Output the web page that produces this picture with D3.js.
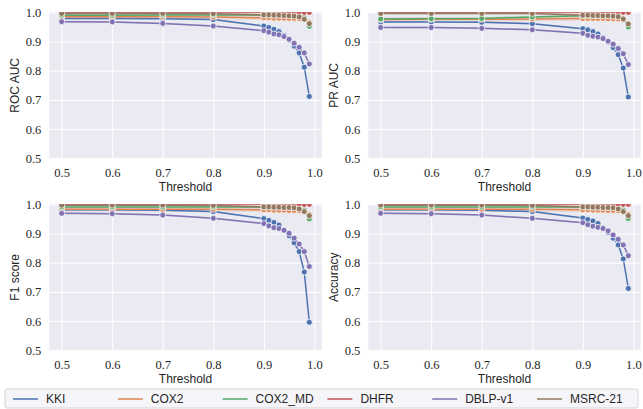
<!DOCTYPE html>
<html>
<head>
<meta charset="utf-8">
<script src="https://cdn.jsdelivr.net/npm/d3@7"></script>
<style>
    body { margin: 0; background: #fff; }
    svg { display: block; }
</style>
</head>
<body>
<div id="graph"></div>
<script>
const width = 643, height = 409;

const thresholds = [0.5, 0.6, 0.7, 0.8, 0.9, 0.91, 0.92, 0.93, 0.94, 0.95, 0.96, 0.97, 0.98, 0.99];
const datasets = ["KKI", "COX2", "COX2_MD", "DHFR", "DBLP-v1", "MSRC-21"];
const colors = ["#4C72B0", "#DD8452", "#55A868", "#C44E52", "#8172B3", "#937860"];
const xTicks = [0.5, 0.6, 0.7, 0.8, 0.9, 1.0];
const yTicks = [0.5, 0.6, 0.7, 0.8, 0.9, 1.0];
const metrics = ["ROC AUC", "PR AUC", "F1 score", "Accuracy"];
// half width of the shaded interval around each dataset's line
const ciHalfWidth = [0.003, 0.008, 0.004, 0.005, 0.003, 0.003];

const rocAuc = [
    [0.979, 0.979, 0.978, 0.975, 0.953, 0.948, 0.942, 0.934, 0.921, 0.905, 0.884, 0.861, 0.812, 0.712],
    [0.985, 0.985, 0.985, 0.984, 0.981, 0.981, 0.980, 0.980, 0.980, 0.979, 0.979, 0.978, 0.976, 0.965],
    [0.990, 0.990, 0.991, 0.991, 0.991, 0.991, 0.990, 0.990, 0.990, 0.989, 0.989, 0.987, 0.982, 0.952],
    [1.000, 1.000, 1.000, 1.000, 1.000, 1.000, 1.000, 1.000, 1.000, 1.000, 1.000, 1.000, 1.000, 1.000],
    [0.968, 0.967, 0.962, 0.953, 0.937, 0.932, 0.926, 0.923, 0.917, 0.908, 0.894, 0.880, 0.861, 0.823],
    [0.996, 0.996, 0.996, 0.995, 0.991, 0.991, 0.990, 0.990, 0.989, 0.988, 0.987, 0.984, 0.976, 0.961]
];
const prAuc = [
    [0.967, 0.967, 0.966, 0.961, 0.944, 0.940, 0.934, 0.926, 0.913, 0.899, 0.879, 0.855, 0.809, 0.710],
    [0.975, 0.976, 0.976, 0.977, 0.979, 0.979, 0.979, 0.979, 0.979, 0.978, 0.978, 0.977, 0.974, 0.962],
    [0.977, 0.978, 0.979, 0.984, 0.988, 0.988, 0.988, 0.988, 0.988, 0.988, 0.987, 0.985, 0.978, 0.950],
    [1.000, 1.000, 1.000, 1.000, 1.000, 1.000, 1.000, 1.000, 1.000, 1.000, 1.000, 1.000, 1.000, 1.000],
    [0.948, 0.948, 0.945, 0.940, 0.928, 0.921, 0.918, 0.915, 0.910, 0.901, 0.891, 0.876, 0.858, 0.821],
    [0.996, 0.996, 0.996, 0.996, 0.990, 0.990, 0.989, 0.989, 0.988, 0.988, 0.987, 0.985, 0.977, 0.960]
];
const f1Score = [
    [0.981, 0.981, 0.980, 0.975, 0.951, 0.945, 0.938, 0.929, 0.912, 0.892, 0.868, 0.838, 0.768, 0.596],
    [0.983, 0.983, 0.983, 0.983, 0.981, 0.981, 0.980, 0.980, 0.980, 0.979, 0.979, 0.978, 0.975, 0.965],
    [0.991, 0.991, 0.991, 0.991, 0.991, 0.991, 0.990, 0.990, 0.990, 0.989, 0.989, 0.987, 0.981, 0.950],
    [1.000, 1.000, 1.000, 1.000, 1.000, 1.000, 1.000, 1.000, 1.000, 1.000, 1.000, 1.000, 1.000, 1.000],
    [0.969, 0.968, 0.963, 0.952, 0.934, 0.926, 0.920, 0.917, 0.911, 0.901, 0.884, 0.864, 0.838, 0.787],
    [0.997, 0.997, 0.997, 0.996, 0.991, 0.991, 0.990, 0.990, 0.989, 0.989, 0.988, 0.984, 0.975, 0.961]
];
const accuracy = [
    [0.981, 0.981, 0.980, 0.975, 0.953, 0.948, 0.943, 0.934, 0.920, 0.904, 0.884, 0.861, 0.813, 0.712],
    [0.983, 0.983, 0.983, 0.983, 0.981, 0.981, 0.980, 0.980, 0.980, 0.979, 0.979, 0.978, 0.975, 0.966],
    [0.991, 0.991, 0.991, 0.991, 0.991, 0.991, 0.990, 0.990, 0.990, 0.989, 0.989, 0.987, 0.981, 0.951],
    [1.000, 1.000, 1.000, 1.000, 1.000, 1.000, 1.000, 1.000, 1.000, 1.000, 1.000, 1.000, 1.000, 1.000],
    [0.969, 0.968, 0.963, 0.952, 0.937, 0.930, 0.925, 0.921, 0.917, 0.909, 0.895, 0.880, 0.861, 0.824],
    [0.997, 0.997, 0.997, 0.996, 0.991, 0.991, 0.990, 0.990, 0.989, 0.989, 0.988, 0.984, 0.975, 0.961]
];

const panels = [
    { label: metrics[0], values: rocAuc, left: 49.3, top: 12.3 },
    { label: metrics[1], values: prAuc, left: 368.3, top: 12.3 },
    { label: metrics[2], values: f1Score, left: 49.3, top: 204.3 },
    { label: metrics[3], values: accuracy, left: 368.3, top: 204.3 }
];
const panelWidth = 272.4, panelHeight = 146;

const svg = d3.select("#graph")
    .append("svg")
    .attr("width", width)
    .attr("height", height);

const drawPanel = (p, n) => {
    const xScale = d3.scaleLinear().domain([0.4755, 1.0145]).range([0, panelWidth]);
    const yScale = d3.scaleLinear().domain([0.5, 1.0]).range([panelHeight, 0]);
    const g = svg.append("g").attr("transform", "translate(" + p.left + "," + p.top + ")");

    g.append("clipPath")
        .attr("id", "clip" + n)
        .append("rect")
        .attr("width", panelWidth)
        .attr("height", panelHeight);

    g.append("rect")
        .attr("width", panelWidth)
        .attr("height", panelHeight)
        .attr("fill", "#EAEAF2");

    // grid + tick labels
    const xAxis = d3.axisBottom(xScale).tickValues(xTicks).tickSize(-panelHeight)
        .tickPadding(8).tickFormat(d3.format(".1f"));
    const yAxis = d3.axisLeft(yScale).tickValues(yTicks).tickSize(-panelWidth)
        .tickPadding(8).tickFormat(d3.format(".1f"));

    const gx = g.append("g").attr("transform", "translate(0," + panelHeight + ")").call(xAxis);
    const gy = g.append("g").call(yAxis);
    [gx, gy].forEach((a) => {
        a.select(".domain").remove();
        a.selectAll(".tick line").attr("stroke", "#fff").attr("stroke-width", 1);
        a.selectAll(".tick text")
            .attr("fill", "#262626")
            .style("font-family", "'Liberation Serif', serif")
            .style("font-size", "12.5px");
    });
    gx.selectAll(".tick text").attr("dy", "0.85em");

    g.append("text")
        .attr("x", panelWidth / 2)
        .attr("y", panelHeight + 33)
        .attr("text-anchor", "middle")
        .style("font-family", "'Liberation Sans', Arial, sans-serif")
        .style("font-size", "12px")
        .attr("fill", "#262626")
        .text("Threshold");

    g.append("text")
        .attr("transform", "translate(" + (-30) + "," + (panelHeight / 2) + ") rotate(-90)")
        .attr("text-anchor", "middle")
        .style("font-family", "'Liberation Sans', Arial, sans-serif")
        .style("font-size", "12px")
        .attr("fill", "#262626")
        .text(p.label);

    const line = d3.line()
        .x((d, i) => xScale(thresholds[i]))
        .y((d) => yScale(d));

    const plot = g.append("g").attr("clip-path", "url(#clip" + n + ")");
    p.values.forEach((series, k) => {
        const band = d3.area()
            .x((d, i) => xScale(thresholds[i]))
            .y0((d) => yScale(d - ciHalfWidth[k]))
            .y1((d) => yScale(d + ciHalfWidth[k]));
        plot.append("path")
            .datum(series)
            .attr("d", band)
            .attr("fill", colors[k])
            .attr("fill-opacity", 0.18);
    });
    p.values.forEach((series, k) => {
        plot.append("path")
            .datum(series)
            .attr("d", line)
            .attr("fill", "none")
            .attr("stroke", colors[k])
            .attr("stroke-width", 1.5);
        plot.selectAll(".m" + k)
            .data(series)
            .enter().append("circle")
            .attr("class", "m" + k)
            .attr("cx", (d, i) => xScale(thresholds[i]))
            .attr("cy", (d) => yScale(d))
            .attr("r", 3)
            .attr("fill", colors[k])
            .attr("stroke", "#fff")
            .attr("stroke-width", 0.75);
    });
};

panels.forEach(drawPanel);

// legend
const legend = svg.append("g").attr("transform", "translate(5,389)");
legend.append("rect")
    .attr("width", 633)
    .attr("height", 19)
    .attr("rx", 2)
    .attr("fill", "#f6f6fa")
    .attr("stroke", "#cccccc")
    .attr("stroke-width", 0.8);

const colWidth = 104.8;
datasets.forEach((name, k) => {
    const item = legend.append("g").attr("transform", "translate(" + (8 + k * colWidth) + ",0)");
    item.append("line")
        .attr("x1", 0).attr("x2", 25)
        .attr("y1", 10).attr("y2", 10)
        .attr("stroke", colors[k])
        .attr("stroke-width", 1.5);
    item.append("text")
        .attr("x", 33)
        .attr("y", 10)
        .attr("dy", "0.35em")
        .style("font-family", "'Liberation Sans', Arial, sans-serif")
        .style("font-size", "12px")
        .attr("fill", "#262626")
        .text(name);
});
</script>
</body>
</html>
